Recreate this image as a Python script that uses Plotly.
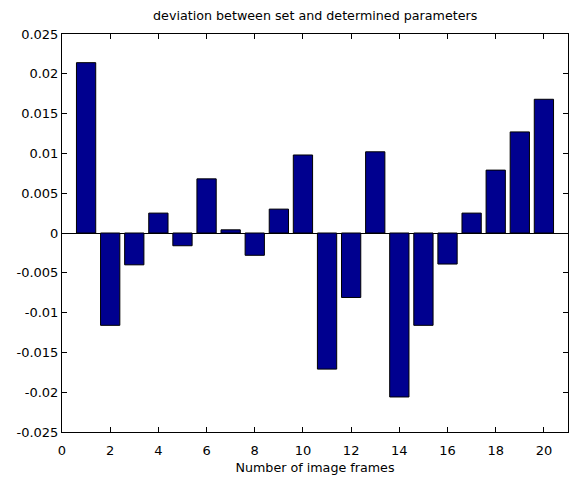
import plotly.graph_objects as go

frames = list(range(1, 21))
deviation = [0.0214, -0.0116, -0.0040, 0.0025, -0.0016, 0.0068, 0.0004, -0.0028, 0.0030, 0.0098,
             -0.0171, -0.0081, 0.0102, -0.0206, -0.0116, -0.0039, 0.0025, 0.0079, 0.0127, 0.0168]

x_ticks = list(range(0, 21, 2))
y_ticks = [-0.025, -0.02, -0.015, -0.01, -0.005, 0, 0.005, 0.01, 0.015, 0.02, 0.025]
y_ticklabels = ["-0.025", "-0.02", "-0.015", "-0.01", "-0.005", "0", "0.005", "0.01", "0.015", "0.02", "0.025"]

title_text = "deviation between set and determined parameters"
xlabel_text = "Number of image frames"

FONT = "DejaVu Sans"

fig = go.Figure()
fig.add_trace(go.Bar(
    x=frames, y=deviation, width=0.8,
    marker=dict(color="rgb(0,0,143)", line=dict(color="black", width=1)),
))

fig.update_layout(
    width=570, height=479,
    margin=dict(l=62, r=2, t=34, b=47),
    paper_bgcolor="white", plot_bgcolor="white",
    showlegend=False,
    font=dict(family=FONT, size=13, color="black"),
    title=dict(text=title_text, x=0.553, xanchor="center", y=0.968, yanchor="middle",
               font=dict(family=FONT, size=12.7, color="black")),
)
fig.update_xaxes(
    range=[0, 21], tickvals=x_ticks, ticktext=[str(v) for v in x_ticks],
    ticks="inside", ticklen=5, tickcolor="black", showline=True, linecolor="black",
    linewidth=1, mirror="ticks", showgrid=False, zeroline=False,
    ticklabelstandoff=6,
    title=dict(text=xlabel_text, font=dict(family=FONT, size=12.7), standoff=6),
    tickfont=dict(family=FONT, size=13),
)
fig.update_yaxes(
    range=[-0.025, 0.025], tickvals=y_ticks, ticktext=y_ticklabels,
    ticks="inside", ticklen=5, tickcolor="black", showline=True, linecolor="black",
    linewidth=1, mirror="ticks", showgrid=False, zeroline=True, zerolinecolor="black",
    zerolinewidth=1, tickfont=dict(family=FONT, size=13),
)

fig.write_html("out.html")
